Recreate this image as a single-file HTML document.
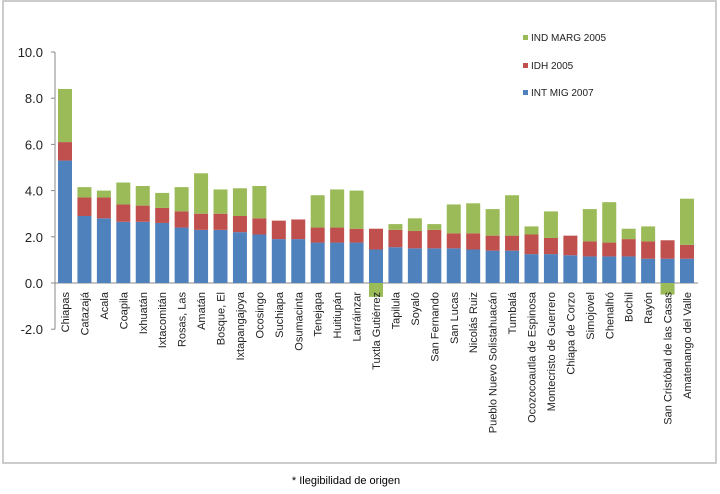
<!DOCTYPE html>
<html><head><meta charset="utf-8"><style>
body{margin:0;background:#fff;width:720px;height:494px;overflow:hidden;font-family:"Liberation Sans",sans-serif}
</style></head><body>
<svg id="chart" width="720" height="494" style="position:absolute;left:0;top:0">
<rect x="3" y="1" width="713" height="462" fill="#fff" stroke="#bcbcbc" stroke-width="1.5"/>
<g id="axes"></g><g id="bars"></g><g id="labels"></g>
<g font-size="10" fill="#222">
<rect x="523" y="35" width="5" height="5" fill="#9bbb59"/>
<text x="531" y="41">IND MARG 2005</text>
<rect x="523" y="63" width="5" height="5" fill="#c0504d"/>
<text x="531" y="69">IDH 2005</text>
<rect x="523" y="90" width="5" height="5" fill="#4f81bd"/>
<text x="531" y="96">INT MIG 2007</text>
</g>
<text x="346" y="484" font-size="11" text-anchor="middle" fill="#000">* Ilegibilidad de origen</text>
</svg>
<script>
const categories=["Chiapas","Catazajá","Acala","Coapila","Ixhuatán","Ixtacomitán","Rosas, Las","Amatán","Bosque, El","Ixtapangajoya","Ocosingo","Suchiapa","Osumacinta","Tenejapa","Huitiupán","Larráinzar","Tuxtla Gutiérrez","Tapilula","Soyaló","San Fernando","San Lucas","Nicolás Ruiz","Pueblo Nuevo Solistahuacán","Tumbalá","Ocozocoautla de Espinosa","Montecristo de Guerrero","Chiapa de Corzo","Simojovel","Chenalhó","Bochil","Rayón","San Cristóbal de las Casas","Amatenango del Valle"];
</script>
<script>
// note: categories kept to 28 visible bars below
</script>
<script>
const cats=["Chiapas","Catazajá","Acala","Coapila","Ixhuatán","Ixtacomitán","Rosas, Las","Amatán","Bosque, El","Ixtapangajoya","Ocosingo","Suchiapa","Osumacinta","Tenejapa","Huitiupán","Larráinzar","Tuxtla Gutiérrez","Tapilula","Soyaló","San Fernando","San Lucas","Nicolás Ruiz","Pueblo Nuevo Solistahuacán","Tumbalá","Ocozocoautla de Espinosa","Montecristo de Guerrero","Chiapa de Corzo","Simojovel","Chenalhó","Bochil","Rayón","San Cristóbal de las Casas","Amatenango del Valle"];
const intMig=[5.3,2.9,2.8,2.65,2.65,2.6,2.4,2.3,2.3,2.2,2.1,1.9,1.9,1.75,1.75,1.75,1.45,1.55,1.5,1.5,1.5,1.45,1.4,1.4,1.25,1.25,1.2,1.15,1.15,1.15,1.05,1.05,1.05];
const idh=[0.8,0.8,0.9,0.75,0.7,0.65,0.7,0.7,0.7,0.7,0.7,0.8,0.85,0.65,0.65,0.6,0.9,0.75,0.75,0.8,0.65,0.7,0.65,0.65,0.85,0.7,0.85,0.65,0.6,0.75,0.75,0.8,0.6];
const indMarg=[2.3,0.45,0.3,0.95,0.85,0.65,1.05,1.75,1.05,1.2,1.4,0,0,1.4,1.65,1.65,-0.6,0.25,0.55,0.25,1.25,1.3,1.15,1.75,0.35,1.15,0,1.4,1.75,0.45,0.65,-0.5,2.0];
const yTicks=[10,8,6,4,2,0,-2];
const yTickLabels=["10.0","8.0","6.0","4.0","2.0","0.0","-2.0"];
</script>
<script>
const NS="http://www.w3.org/2000/svg";
const y0=283, unit=23.1, x0=65, pitch=(687-65)/(cats.length-1), bw=14;
const ys=v=>y0-v*unit, xs=i=>x0+i*pitch;
function mk(tag,attrs,parent){const e=document.createElementNS(NS,tag);for(const k in attrs)e.setAttribute(k,attrs[k]);parent.appendChild(e);return e;}
const axes=document.getElementById('axes'),bars=document.getElementById('bars'),labels=document.getElementById('labels');
const ax=mk('line',{x1:55,y1:ys(10),x2:55,y2:ys(-2),stroke:'#888'},axes);


const xa=mk('line',{x1:55,y1:y0,x2:698,y2:y0,stroke:'#888'},axes);


yTicks.forEach((t,i)=>{
  mk('line',{x1:51,y1:ys(t),x2:55,y2:ys(t),stroke:'#888'},axes);
  const tx=mk('text',{x:43,y:ys(t)+5,'text-anchor':'end','font-size':13,fill:'#222'},axes);
  tx.textContent=yTickLabels[i];
  
  
});
const cols=['#4f81bd','#c0504d','#9bbb59'];
cats.forEach((c,i)=>{
  const x=xs(i)-bw/2;
  let pos=0,neg=0;
  [intMig[i],idh[i],indMarg[i]].forEach((v,s)=>{
    let a,b;
    if(v>=0){a=pos;b=pos+v;pos=b;}else{a=neg+v;b=neg;neg=a;}
    const r=mk('rect',{x:x,y:ys(b),width:bw,height:Math.max(0,ys(a)-ys(b)),fill:cols[s]},bars);
    
    
  });
  const t=mk('text',{transform:`translate(${xs(i)+4},292) rotate(-90)`,'text-anchor':'end','font-size':11,fill:'#222'},labels);
  t.textContent=c;
  
  
});
</script>
</body></html>
